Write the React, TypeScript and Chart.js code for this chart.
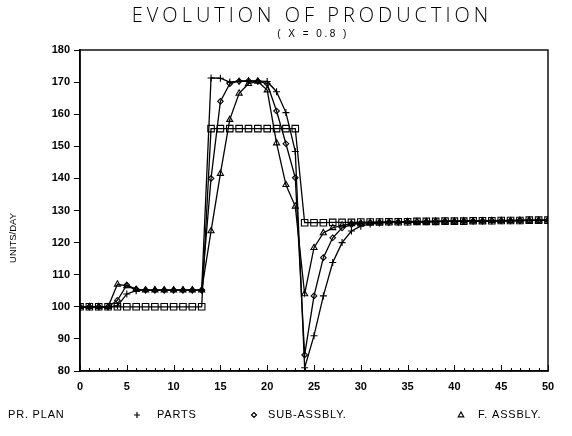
import React, { useEffect, useRef } from 'react';
import { Chart, registerables } from 'chart.js';

Chart.register(...registerables);

const days = [0,1,2,3,4,5,6,7,8,9,10,11,12,13,14,15,16,17,18,19,20,21,22,23,24,25,26,27,28,29,30,31,32,33,34,35,36,37,38,39,40,41,42,43,44,45,46,47,48,49,50];

const prPlan = [100,100,100,100,100,100,100,100,100,100,100,100,100,100,
  155.5,155.5,155.5,155.5,155.5,155.5,155.5,155.5,155.5,155.5,
  126.2,126.2,126.2,126.3,126.3,126.3,126.4,126.4,126.4,126.5,126.5,126.5,126.6,126.6,126.6,126.7,126.7,126.7,126.8,126.8,126.8,126.9,126.9,126.9,127.0,127.0,127.0];

const parts = [100,100,100,100,100.3,104,105,105.2,105.2,105.2,105.2,105.2,105.2,105.2,
  171.3,171.2,170,170.3,170.4,170.3,170.2,167,160.5,148.4,
  81,91,103.4,113.8,120,123.6,125.1,125.8,126.1,126.3,126.4,126.4,126.5,126.5,126.5,126.6,126.6,126.6,126.7,126.7,126.7,126.8,126.8,126.8,126.9,126.9,126.9];

const subAssbly = [100,100,100,100,102,106.8,105.5,105.2,105.2,105.2,105.2,105.2,105.2,105.2,
  140,164,169.5,170.3,170.4,170.3,169.5,161,150.8,140.2,
  85,103.4,115.3,121.5,124.6,125.6,126,126.2,126.3,126.4,126.4,126.5,126.5,126.5,126.6,126.6,126.6,126.7,126.7,126.7,126.8,126.8,126.8,126.9,126.9,126.9,127.0];

const fAssbly = [100,100,100,100,107,106.5,105.3,105.2,105.2,105.2,105.2,105.2,105.2,105.2,
  123.6,141.5,158.3,166.5,169.5,170.2,167.5,151,138,131.3,
  104,118.4,123,124.6,125.4,125.9,126.1,126.2,126.3,126.4,126.4,126.5,126.5,126.5,126.6,126.6,126.6,126.7,126.7,126.7,126.8,126.8,126.8,126.9,126.9,126.9,127.0];

const yMin = 80;
const yMax = 180;
const yStep = 10;
const xMin = 0;
const xMax = 50;
const xStep = 5;

const titleText = 'EVOLUTION OF PRODUCTION';
const subtitleText = '( X = 0.8 )';
const yAxisTitle = 'UNITS/DAY';
const legendLabels = ['PR. PLAN', 'PARTS', 'SUB-ASSBLY.', 'F. ASSBLY.'];

function drawMarker(ctx: CanvasRenderingContext2D, kind: string, x: number, y: number, r: number) {
  ctx.beginPath();
  if (kind === 'cross') {
    ctx.moveTo(x - r, y); ctx.lineTo(x + r, y);
    ctx.moveTo(x, y - r); ctx.lineTo(x, y + r);
  } else if (kind === 'diamond') {
    ctx.moveTo(x, y - r); ctx.lineTo(x + r, y); ctx.lineTo(x, y + r); ctx.lineTo(x - r, y); ctx.closePath();
  } else if (kind === 'triangle') {
    ctx.moveTo(x, y - r); ctx.lineTo(x + r * 0.9, y + r * 0.6); ctx.lineTo(x - r * 0.9, y + r * 0.6); ctx.closePath();
  }
  ctx.stroke();
}

const decorPlugin = {
  id: 'decor',
  afterDraw(chart: any) {
    const ctx: CanvasRenderingContext2D = chart.ctx;
    const a = chart.chartArea;
    const xs = chart.scales.x;
    ctx.save();
    ctx.strokeStyle = '#000';
    ctx.fillStyle = '#000';
    ctx.lineWidth = 1.4;
    ctx.strokeRect(a.left, a.top, a.right - a.left, a.bottom - a.top);

    ctx.lineWidth = 1;
    for (const d of days) {
      const px = Math.round(xs.getPixelForValue(d)) + 0.5;
      const len = d % xStep === 0 ? 6 : 3;
      ctx.beginPath();
      ctx.moveTo(px, a.bottom);
      ctx.lineTo(px, a.bottom - len);
      ctx.stroke();
    }

    ctx.textAlign = 'center';
    ctx.textBaseline = 'middle';
    (ctx as any).letterSpacing = '4px';
    ctx.font = '300 20px "Open Sans"';
    ctx.fillText(titleText, 312, 16);
    (ctx as any).letterSpacing = '2.5px';
    ctx.font = '10px "Liberation Sans"';
    ctx.fillText(subtitleText, 313, 34);
    (ctx as any).letterSpacing = '0px';

    ctx.save();
    ctx.translate(13, 238);
    ctx.rotate(-Math.PI / 2);
    ctx.font = '9.5px "Liberation Sans"';
    ctx.fillText(yAxisTitle, 0, 0);
    ctx.restore();

    const ly = 415;
    ctx.textAlign = 'left';
    ctx.font = '11px "Liberation Sans"';
    (ctx as any).letterSpacing = '0.8px';
    ctx.fillText(legendLabels[0], 8, ly);
    ctx.lineWidth = 1.2;
    drawMarker(ctx, 'cross', 137, ly, 3);
    ctx.fillText(legendLabels[1], 157, ly);
    drawMarker(ctx, 'diamond', 254, ly, 2.5);
    ctx.fillText(legendLabels[2], 268, ly);
    drawMarker(ctx, 'triangle', 461, ly, 3);
    ctx.fillText(legendLabels[3], 478, ly);
    ctx.restore();
  },
};

function makeSet(label: string, values: number[], style: string, radius: number) {
  return {
    label,
    data: days.map((d, i) => ({ x: d, y: values[i] })),
    borderColor: '#000',
    backgroundColor: 'rgba(255,255,255,0)',
    borderWidth: 1.3,
    pointStyle: style,
    pointRadius: radius,
    pointBorderWidth: 1.1,
    pointBorderColor: '#000',
    pointBackgroundColor: 'rgba(255,255,255,0)',
    tension: 0,
    fill: false,
  };
}

export default function App() {
  const ref = useRef<HTMLCanvasElement | null>(null);
  useEffect(() => {
    if (!ref.current) return;
    const chart = new Chart(ref.current, {
      type: 'line',
      data: {
        datasets: [
          makeSet(legendLabels[0], prPlan, 'rect', 4.6),
          makeSet(legendLabels[1], parts, 'cross', 3.5),
          makeSet(legendLabels[2], subAssbly, 'rectRot', 2.8),
          makeSet(legendLabels[3], fAssbly, 'triangle', 3.5),
        ] as any,
      },
      options: {
        responsive: false,
        animation: false,
        devicePixelRatio: 1,
        layout: { padding: { left: 0, right: 24, top: 50, bottom: 35 } },
        plugins: {
          legend: { display: false },
          title: { display: false },
          tooltip: { enabled: false },
        },
        scales: {
          x: {
            type: 'linear',
            min: xMin,
            max: xMax,
            afterFit: (s: any) => { s.height = 30; },
            ticks: { stepSize: xStep, color: '#000', padding: 9, font: { family: 'Liberation Sans', size: 11, weight: 'bold' } },
            grid: { display: false, drawTicks: false },
            border: { display: true, color: '#000', width: 1.4 },
          },
          y: {
            min: yMin,
            max: yMax,
            afterFit: (s: any) => { s.width = 80; },
            ticks: { stepSize: yStep, color: '#000', padding: 4, font: { family: 'Liberation Sans', size: 11, weight: 'bold' } },
            grid: { drawOnChartArea: false, drawTicks: true, tickLength: 6, color: '#000' },
            border: { display: true, color: '#000', width: 1.6 },
          },
        },
      } as any,
      plugins: [decorPlugin],
    });
    return () => chart.destroy();
  }, []);
  return (
    <div style={{ position: 'fixed', left: 0, top: 0, width: 572, height: 436, background: '#fff' }}>
      <canvas ref={ref} width={572} height={436} style={{ width: 572, height: 436 }} />
    </div>
  );
}
